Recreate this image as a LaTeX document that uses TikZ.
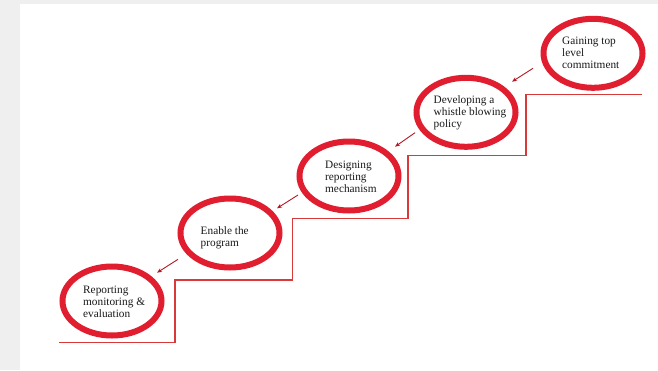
\documentclass[tikz,border=0pt]{standalone}
\usepackage{fontspec}
\setmainfont{Liberation Serif}
\usetikzlibrary{shapes.geometric,arrows.meta}
\definecolor{ringred}{HTML}{E01E30}
\definecolor{stairred}{HTML}{D83A3A}
\definecolor{bggray}{HTML}{EFEFEF}
\tikzset{
  ring/.style={ellipse, draw=ringred, line width=6pt, minimum width=99pt, minimum height=69pt, inner sep=0pt},
  lbl/.style={anchor=north west, align=left, font=\fontsize{11.3pt}{12pt}\selectfont, inner sep=0pt, text=black!90},
  stair/.style={draw=stairred, line width=1.3pt},
  flow/.style={draw=ringred!80!black, line width=0.9pt, -{Stealth[length=5pt,width=4pt]}}
}
\begin{document}
\begin{tikzpicture}[x=1pt,y=-1pt]
\useasboundingbox (0,0) rectangle (658,370);
\fill[bggray] (0,0) rectangle (658,370);
\fill[white] (20,4) rectangle (658,370);
% stairs
\coordinate (s0) at (59,342.5);
\coordinate (s1) at (175,342.5);
\coordinate (s2) at (175,280);
\coordinate (s3) at (292.5,280);
\coordinate (s4) at (292.5,218.3);
\coordinate (s5) at (408,218.3);
\coordinate (s6) at (408,155.7);
\coordinate (s7) at (526,155.7);
\coordinate (s8) at (526,94.3);
\coordinate (s9) at (642,94.3);
\draw[stair] (s0) -- (s1) -- (s2) -- (s3) -- (s4) -- (s5) -- (s6) -- (s7) -- (s8) -- (s9);
% rings
\node[ring] (e1) at (112,301) {};
\node[ring] (e2) at (230,233) {};
\node[ring] (e3) at (349,176) {};
\node[ring] (e4) at (466,112.3) {};
\node[ring] (e5) at (593,53.3) {};
% labels
\node[lbl] (t1) at (83,285.5) {Reporting\\monitoring \&\\evaluation};
\node[lbl] (t2) at (200.5,226) {Enable the\\program};
\node[lbl] (t3) at (325,160.5) {Designing\\reporting\\mechanism};
\node[lbl] (t4) at (433.5,95.5) {Developing a\\whistle blowing\\policy};
\node[lbl] (t5) at (562,37) {Gaining top\\level\\commitment};
% arrows
\coordinate (a5) at (533,68.3);   \coordinate (b5) at (512,81.7);
\coordinate (a4) at (415,132.7);  \coordinate (b4) at (395,146.7);
\coordinate (a3) at (298,195);    \coordinate (b3) at (277,208.3);
\coordinate (a2) at (178,259.3);  \coordinate (b2) at (157,272.7);
\draw[flow] (a5) -- (b5);
\draw[flow] (a4) -- (b4);
\draw[flow] (a3) -- (b3);
\draw[flow] (a2) -- (b2);
\end{tikzpicture}
\end{document}
